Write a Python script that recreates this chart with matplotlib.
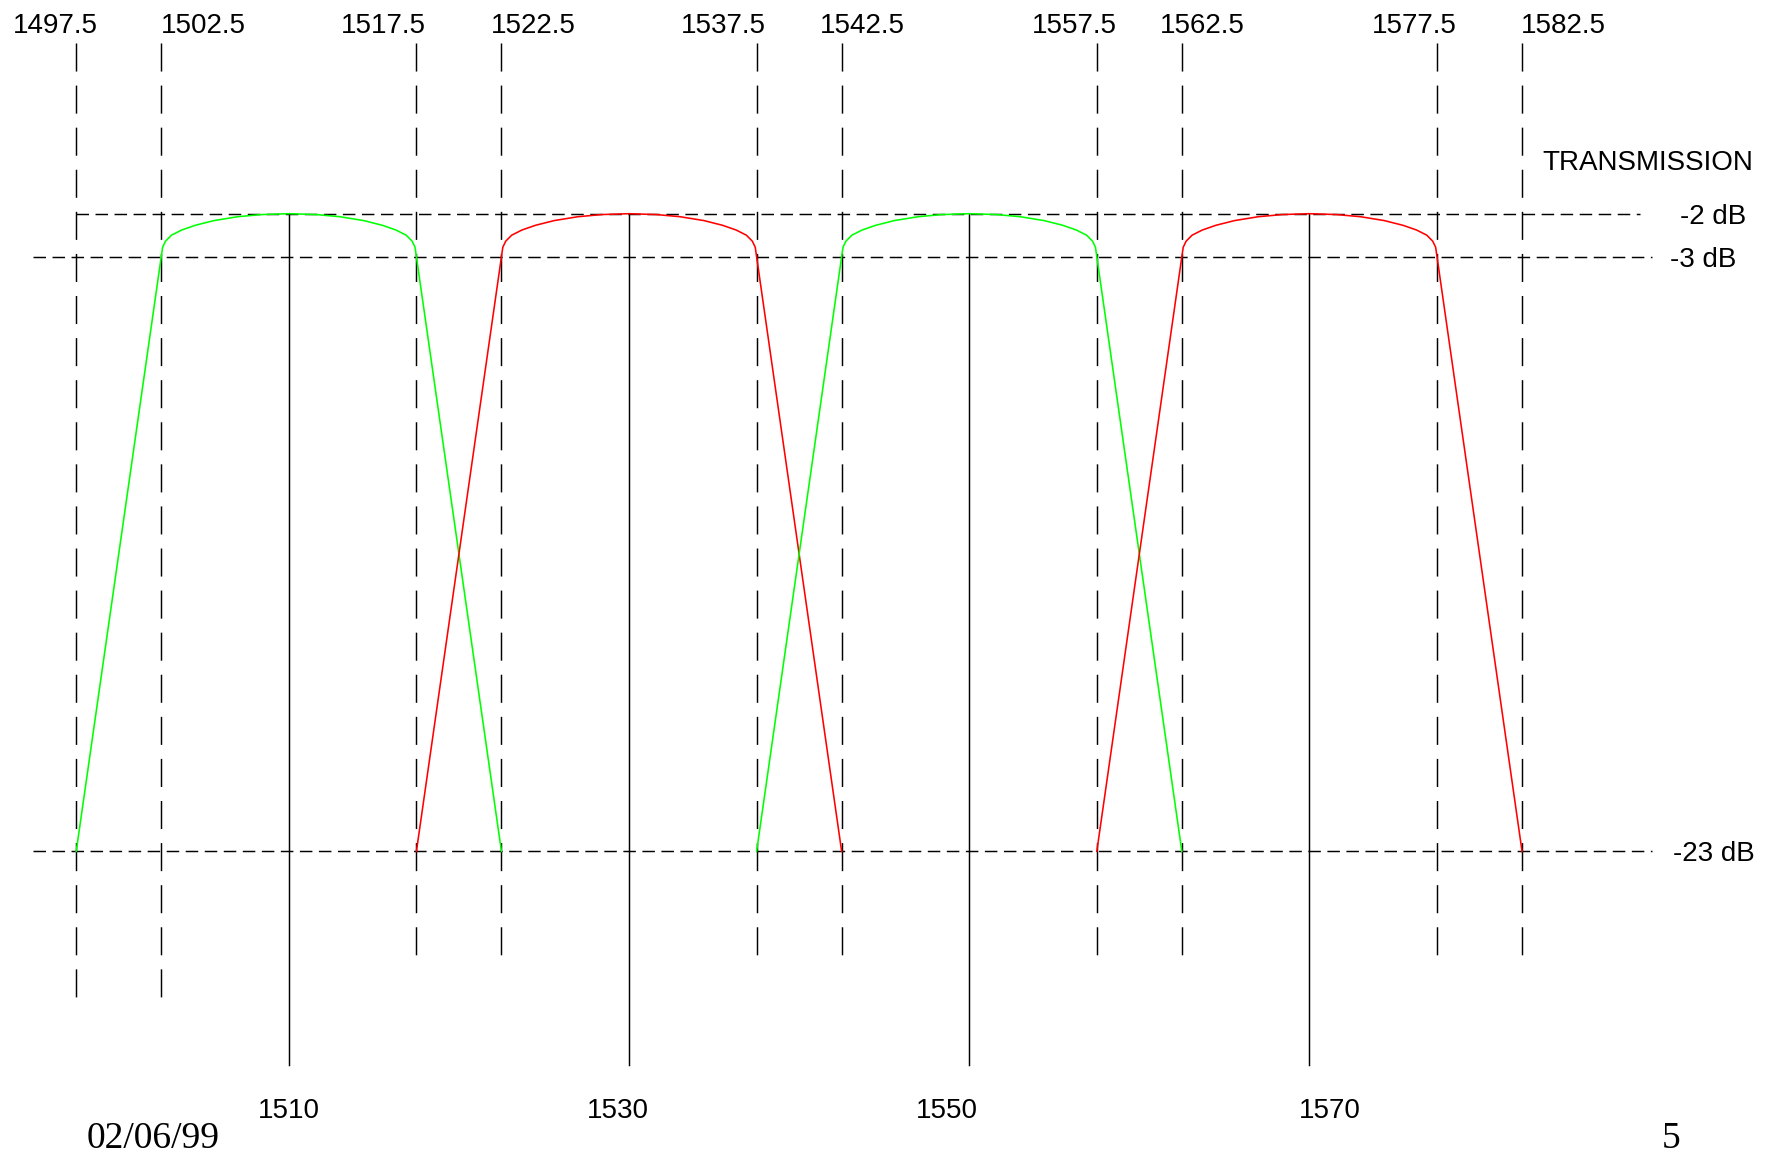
import numpy as np
import matplotlib
matplotlib.use("Agg")
import matplotlib.pyplot as plt

plt.rcParams['lines.scale_dashes'] = False

# channel centres (nm) and colours
centers = [1510, 1530, 1550, 1570]
colors = ['#00ff00', '#ff0000', '#00ff00', '#ff0000']

# band edge wavelengths (dashed verticals)
edges = [1497.5, 1502.5, 1517.5, 1522.5, 1537.5, 1542.5, 1557.5, 1562.5, 1577.5, 1582.5]
edge_labels = ['1497.5', '1502.5', '1517.5', '1522.5', '1537.5',
               '1542.5', '1557.5', '1562.5', '1577.5', '1582.5']
edge_label_dx = [-1.2, 2.5, -1.95, 1.9, -1.95, 1.2, -1.33, 1.2, -1.33, 2.4]

center_labels = ['1510', '1530', '1550', '1570']
center_label_dx = [0.0, -0.65, -1.3, 1.17]

# levels (dB)
levels = [-2, -3, -23]
level_labels = ['-2 dB', '-3 dB', '-23 dB']

# filter shape, left half, offset from centre (nm) vs transmission (dB)
half_off = [-12.5, -7.5, -7.42, -7.25, -6.9, -6.3, -5.5, -4.4, -3.0, -1.6, 0.0]
half_db = [-23, -3.0, -2.78, -2.64, -2.50, -2.38, -2.27, -2.16, -2.07, -2.02, -2.0]

shape_off = np.array(half_off + [-v for v in half_off[-2::-1]])
shape_db = np.array(half_db + half_db[-2::-1])

# drawing is not to scale: 1 dB between -2 and -3 is drawn taller
STEP = 1.446


def fwd(y):
    y = np.asarray(y, float)
    return np.where(y < -3, y + 3, (y + 3) * STEP)


def inv(u):
    u = np.asarray(u, float)
    return np.where(u < 0, u - 3, u / STEP - 3)


W, H = 1780, 1155
fig = plt.figure(figsize=(W / 100, H / 100), dpi=100)
ax = fig.add_axes([0, 0, 1, 1])
ax.set_yscale('function', functions=(fwd, inv))
ax.set_xlim(1493.02, 1493.02 + W / 17.01)
ax.set_ylim(-33.21, 2.97)
ax.axis('off')


def y_at(py):
    return ax.transData.inverted().transform((0, H - py))[1]


def x_at(px):
    return ax.transData.inverted().transform((px, 0))[0]


lw = 1.05
vdash = (20.2, 10.1)
hdash = (9.0, 4.7)

# dashed verticals at band edges
for i, e in enumerate(edges):
    bottom = 1007 if i < 2 else 965
    ax.plot([e, e], [y_at(43), y_at(bottom)], color='black', lw=lw,
            linestyle=(0, vdash))

# horizontal level lines
ax.plot([edges[0], x_at(1640)], [levels[0], levels[0]], color='black', lw=lw,
        linestyle=(0, hdash))
for lv in levels[1:]:
    ax.plot([x_at(33), x_at(1652)], [lv, lv], color='black', lw=lw,
            linestyle=(0, hdash))

# solid centre lines
for c in centers:
    ax.plot([c, c], [levels[0], y_at(1065)], color='black', lw=lw)

# filter passbands
for c, col in zip(centers, colors):
    ax.plot(c + shape_off, shape_db, color=col, lw=1.15)

font = 'Liberation Sans'
for e, lab, dx in zip(edges, edge_labels, edge_label_dx):
    ax.text(e + dx, y_at(26), lab, ha='center', va='center', fontsize=20,
            family=font)

for c, lab, dx in zip(centers, center_labels, center_label_dx):
    ax.text(c + dx, y_at(1111), lab, ha='center', va='center', fontsize=20,
            family=font)

for lv, lab, px in zip(levels, level_labels, [1680, 1670, 1673]):
    ax.text(x_at(px), y_at(ax.transData.transform((0, lv))[1] * -1 + H + 3),
            lab, ha='left', va='center', fontsize=20, family=font)

ax.text(x_at(1542), y_at(163), 'TRANSMISSION', ha='left', va='center',
        fontsize=20, family=font)

ax.text(x_at(153), y_at(1139), '02/06/99', ha='center', va='center',
        fontsize=27, family='Liberation Serif')
ax.text(x_at(1671), y_at(1139), '5', ha='center', va='center',
        fontsize=27, family='Liberation Serif')

fig.savefig('out.png', dpi=100)
